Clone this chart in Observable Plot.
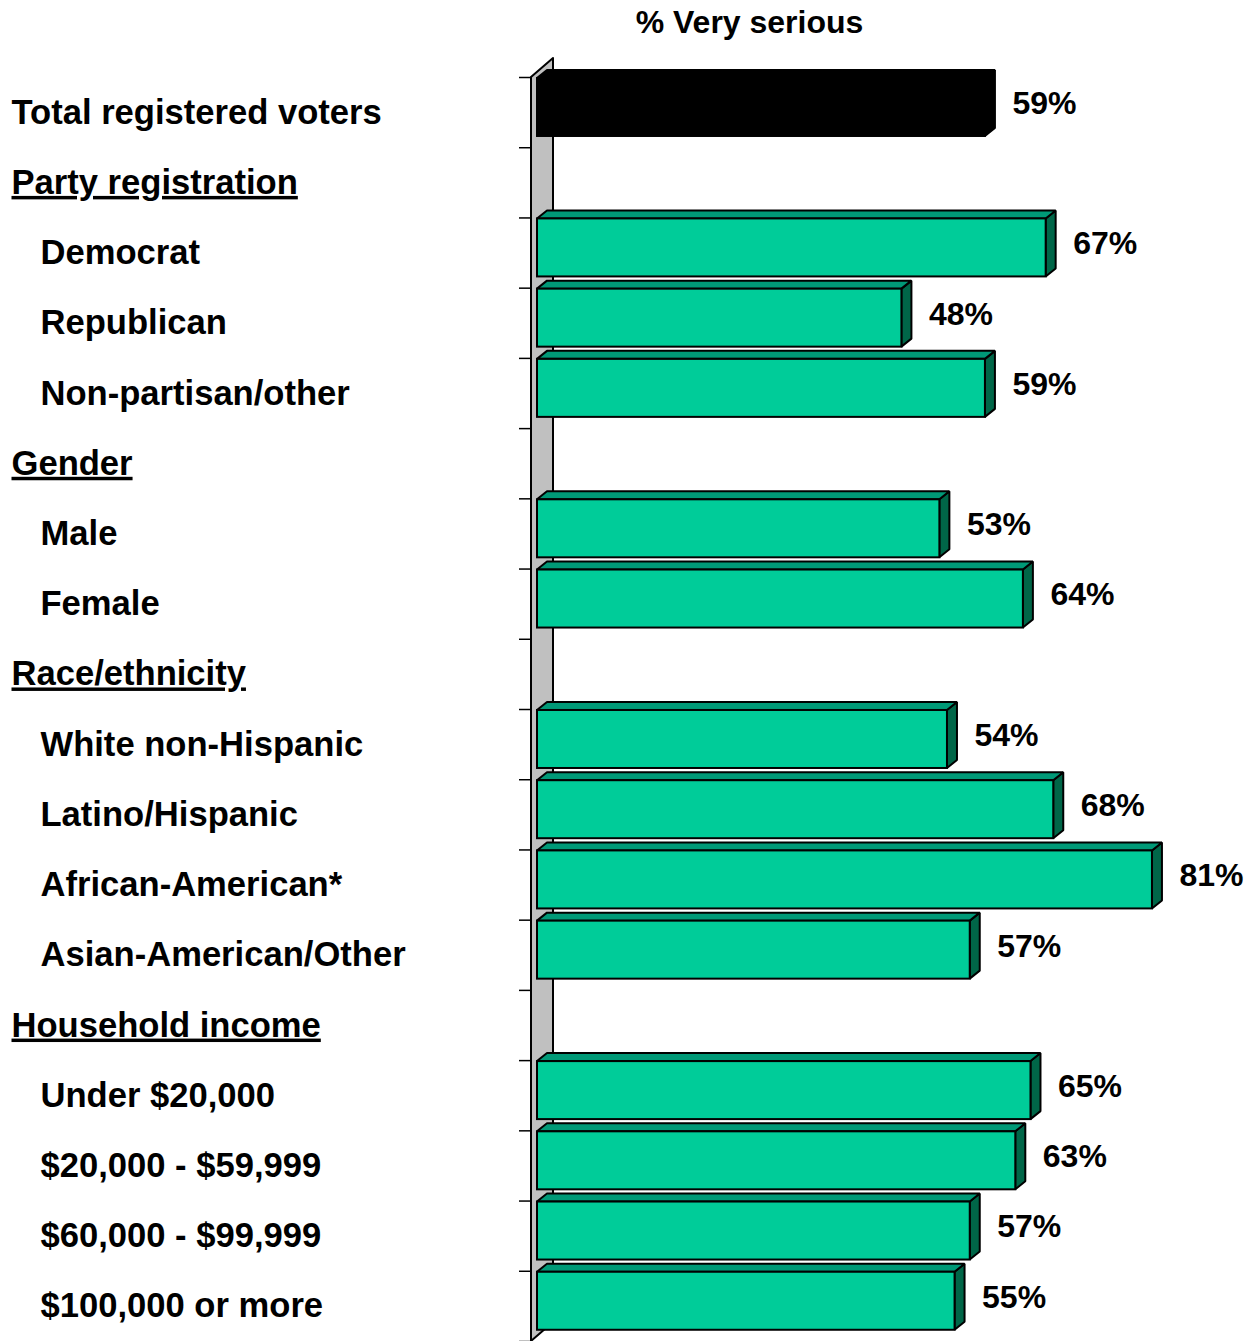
<!DOCTYPE html>
<html><head><meta charset="utf-8">
<script src="https://cdn.jsdelivr.net/npm/d3@7"></script>
<script src="https://cdn.jsdelivr.net/npm/@observablehq/plot@0.6"></script>
<style>
body{margin:0;background:#fff;}
#chart svg{display:block;}
</style></head><body><div id="chart"></div>
<script>
const categories = [
  "Total registered voters",
  "Party registration",
  "Democrat",
  "Republican",
  "Non-partisan/other",
  "Gender",
  "Male",
  "Female",
  "Race/ethnicity",
  "White non-Hispanic",
  "Latino/Hispanic",
  "African-American*",
  "Asian-American/Other",
  "Household income",
  "Under $20,000",
  "$20,000 - $59,999",
  "$60,000 - $99,999",
  "$100,000 or more"
];
const rowTypes = ["total","header","item","item","item","header","item","item","header","item","item","item","item","header","item","item","item","item"];
const values = [59, null, 67, 48, 59, null, 53, 64, null, 54, 68, 81, 57, null, 65, 63, 57, 55];
const title = "% Very serious";

const W = 1259, H = 1341, ML = 537, MT = 77, XMAX = 95.1, NROWS = categories.length;
const pxX = (W - ML) / XMAX;
const pxY = (H - MT) / NROWS;
const DX = 10 / pxX, DY = 8 / pxY;
const TOP = 0.014, BOT = 0.84;

const palette = {
  total: {front: "#000000", top: "#000000", side: "#000000"},
  item: {front: "#00CC99", top: "#009977", side: "#006648"}
};

const rows = categories.map((c, i) => ({i, label: c, type: rowTypes[i], value: values[i]}));
const bars = rows.filter(r => r.value != null);
const topFace = bars.flatMap(b => [
  {key: b.i, type: b.type, y: b.i + TOP, x1: 0, x2: b.value},
  {key: b.i, type: b.type, y: b.i + TOP - DY, x1: DX, x2: b.value + DX}
]);
const sideFace = bars.flatMap(b => [
  {key: b.i, type: b.type, x: b.value, y1: b.i + TOP, y2: b.i + BOT},
  {key: b.i, type: b.type, x: b.value + DX, y1: b.i + TOP - DY, y2: b.i + BOT - DY}
]);
const wallX0 = -6 / pxX, wallX1 = 16 / pxX, wallDY = 19 / pxY;
const wall = [
  {x: wallX0, y1: 0, y2: NROWS},
  {x: wallX1, y1: -wallDY, y2: NROWS - wallDY}
];

const font = "Arial, 'Liberation Sans', sans-serif";
const pal = d => palette[d.type === "total" ? "total" : "item"];
const LABEL_SIZE = 34.6;

const plot = Plot.plot({
  width: W, height: H,
  marginLeft: ML, marginRight: 0, marginTop: MT, marginBottom: 0,
  x: {domain: [0, XMAX], axis: null},
  y: {domain: [0, NROWS], reverse: true, axis: null},
  color: {type: "identity"},
  style: {fontFamily: font, overflow: "visible", background: "#fff"},
  marks: [
    Plot.areaY(wall, {x: "x", y1: "y1", y2: "y2", fill: "#C0C0C0", stroke: "#000", strokeWidth: 2}),
    Plot.ruleY(d3.range(NROWS + 1), {x1: -18 / pxX, x2: -6 / pxX, stroke: "#000", strokeWidth: 1.5}),
    Plot.areaY(sideFace, {x: "x", y1: "y1", y2: "y2", z: "key", fill: d => pal(d).side, stroke: "#000", strokeWidth: 2, strokeLinejoin: "miter"}),
    Plot.areaX(topFace, {y: "y", x1: "x1", x2: "x2", z: "key", fill: d => pal(d).top, stroke: "#000", strokeWidth: 2, strokeLinejoin: "miter"}),
    Plot.rect(bars, {x1: 0, x2: "value", y1: d => d.i + TOP, y2: d => d.i + BOT, fill: d => pal(d).front, stroke: "#000", strokeWidth: 2}),
    Plot.text(bars, {x: "value", y: d => d.i + 0.5, text: d => d.value + "%", dx: 27, dy: -9, textAnchor: "start", fontSize: 32, fontWeight: "bold", fill: "#000"}),
    Plot.text(rows.filter(r => r.type === "total"), {y: d => d.i + 0.5, text: "label", frameAnchor: "left", dx: 11 - ML, textAnchor: "start", fontSize: LABEL_SIZE, fontWeight: "bold", fill: "#000"}),
    Plot.text(rows.filter(r => r.type === "header"), {y: d => d.i + 0.5, text: "label", frameAnchor: "left", dx: 11 - ML, textAnchor: "start", fontSize: LABEL_SIZE, fontWeight: "bold", fill: "#000", ariaDescription: "headers"}),
    Plot.text(rows.filter(r => r.type === "item"), {y: d => d.i + 0.5, text: "label", frameAnchor: "left", dx: 40 - ML, textAnchor: "start", fontSize: LABEL_SIZE, fontWeight: "bold", fill: "#000"}),
    Plot.text([title], {text: d => d, frameAnchor: "top-left", dx: 749 - ML, dy: 22 - MT - 12, textAnchor: "middle", fontSize: 32, fontWeight: "bold", fill: "#000"})
  ]
});
plot.querySelectorAll('g[aria-description="headers"] text').forEach(t => {
  t.style.textDecoration = "underline";
  t.setAttribute("text-decoration", "underline");
});
document.getElementById("chart").append(plot);
</script></body></html>
